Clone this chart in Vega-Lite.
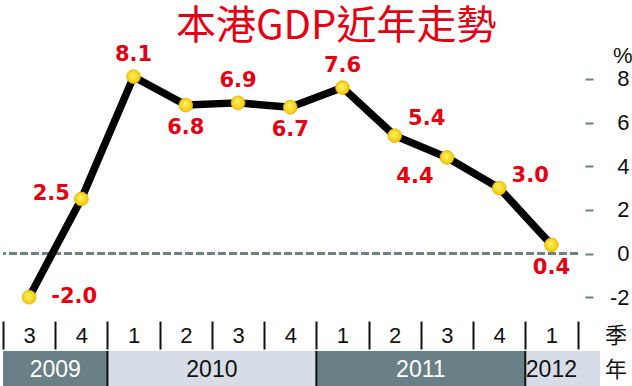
{
  "$schema": "https://vega.github.io/schema/vega-lite/v6.json",
  "padding": {"left": 2, "top": 6, "right": 0, "bottom": 0},
  "spacing": 0,
  "background": "white",
  "title": {
    "text": "本港GDP近年走勢",
    "font": "Noto Sans CJK TC",
    "fontSize": 40,
    "fontWeight": "normal",
    "color": "#e60012",
    "anchor": "start",
    "dx": 174,
    "offset": -43,
    "baseline": "bottom"
  },
  "datasets": {
    "gdp": [
      {"period": "2009 Q3", "value": -2.0},
      {"period": "2009 Q4", "value": 2.5},
      {"period": "2010 Q1", "value": 8.1},
      {"period": "2010 Q2", "value": 6.8},
      {"period": "2010 Q3", "value": 6.9},
      {"period": "2010 Q4", "value": 6.7},
      {"period": "2011 Q1", "value": 7.6},
      {"period": "2011 Q2", "value": 5.4},
      {"period": "2011 Q3", "value": 4.4},
      {"period": "2011 Q4", "value": 3.0},
      {"period": "2012 Q1", "value": 0.4}
    ],
    "years": [
      {"year": "2009", "start": 0, "end": 2},
      {"year": "2010", "start": 2, "end": 6},
      {"year": "2011", "start": 6, "end": 10},
      {"year": "2012", "start": 10, "end": 11}
    ]
  },
  "vconcat": [
    {
      "width": 574.5,
      "height": 271,
      "data": {"name": "gdp"},
      "transform": [
        {"calculate": "replace(format(datum.value, '.1f'), '\u2212', '-')", "as": "label"}
      ],
      "layer": [
        {
          "mark": {"type": "rule", "color": "#6b8186", "strokeWidth": 2, "strokeDash": [7, 4]},
          "encoding": {"y": {"datum": 0, "type": "quantitative"}}
        },
        {
          "encoding": {
            "x": {
              "field": "period",
              "type": "ordinal",
              "sort": "ascending",
              "scale": {"type": "band", "paddingInner": 0, "paddingOuter": 0},
              "axis": {
                "title": "季",
                "titleX": 612.5,
                "titleY": 14,
                "titleAlign": "center",
                "titleBaseline": "middle",
                "titleAngle": 0,
                "titleFont": "Noto Sans CJK TC",
                "titleFontSize": 22,
                "titleFontWeight": "normal",
                "titleColor": "#111111",
                "domain": false,
                "grid": false,
                "ticks": true,
                "tickBand": "extent",
                "tickSize": 28,
                "tickWidth": 2,
                "tickColor": "#111111",
                "labelExpr": "slice(datum.label, -1)",
                "labelFont": "Liberation Sans",
                "labelFontSize": 22,
                "labelColor": "#111111",
                "labelPadding": -14,
                "labelBaseline": "middle",
                "labelAngle": 0,
                "labelFlush": false,
                "labelOverlap": false,
                "labelBound": false
              }
            },
            "y": {
              "field": "value",
              "type": "quantitative",
              "scale": {"domain": [-3.092, 9.322], "nice": false, "zero": false},
              "axis": {
                "orient": "right",
                "offset": 7.5,
                "values": [-2, 0, 2, 4, 6, 8],
                "domain": false,
                "grid": false,
                "tickSize": 8,
                "tickWidth": 2,
                "tickColor": "#6b8186",
                "labelFont": "Liberation Sans",
                "labelFontSize": 22,
                "labelColor": "#111111",
                "labelAlign": "right",
                "labelBaseline": "middle",
                "labelPadding": 36,
                "labelExpr": "replace(datum.label, '\u2212', '-')",
                "title": "%",
                "titleAngle": 0,
                "titleX": 47,
                "titleY": 12,
                "titleAlign": "right",
                "titleBaseline": "alphabetic",
                "titleFont": "Liberation Sans",
                "titleFontSize": 22,
                "titleFontWeight": "normal",
                "titleColor": "#111111"
              }
            }
          },
          "layer": [
            {"mark": {"type": "line", "color": "#000000", "strokeWidth": 7.5, "strokeJoin": "round"}},
            {
              "mark": {
                "type": "circle",
                "size": 190,
                "opacity": 1,
                "fill": {
                  "gradient": "radial",
                  "x1": 0.42, "y1": 0.38, "r1": 0,
                  "x2": 0.5, "y2": 0.5, "r2": 0.55,
                  "stops": [
                    {"offset": 0, "color": "#fff36a"},
                    {"offset": 1, "color": "#f2c400"}
                  ]
                },
                "stroke": "#e0b400",
                "strokeWidth": 0.8
              }
            },
            {
              "transform": [{"filter": {"field": "period", "oneOf": ["2010 Q1", "2010 Q3", "2011 Q1"]}}],
              "mark": {"type": "text", "font": "DejaVu Sans", "fontWeight": "bold", "fontSize": 21, "color": "#e60012", "dy": -22},
              "encoding": {"text": {"field": "label"}}
            },
            {
              "transform": [{"filter": {"field": "period", "oneOf": ["2010 Q2", "2010 Q4", "2012 Q1"]}}],
              "mark": {"type": "text", "font": "DejaVu Sans", "fontWeight": "bold", "fontSize": 21, "color": "#e60012", "dy": 23},
              "encoding": {"text": {"field": "label"}}
            },
            {
              "transform": [{"filter": {"field": "period", "equal": "2009 Q3"}}],
              "mark": {"type": "text", "font": "DejaVu Sans", "fontWeight": "bold", "fontSize": 21, "color": "#e60012", "dx": 45, "dy": 0},
              "encoding": {"text": {"field": "label"}}
            },
            {
              "transform": [{"filter": {"field": "period", "equal": "2009 Q4"}}],
              "mark": {"type": "text", "font": "DejaVu Sans", "fontWeight": "bold", "fontSize": 21, "color": "#e60012", "dx": -30, "dy": -5},
              "encoding": {"text": {"field": "label"}}
            },
            {
              "transform": [{"filter": {"field": "period", "equal": "2011 Q2"}}],
              "mark": {"type": "text", "font": "DejaVu Sans", "fontWeight": "bold", "fontSize": 21, "color": "#e60012", "dx": 32, "dy": -17},
              "encoding": {"text": {"field": "label"}}
            },
            {
              "transform": [{"filter": {"field": "period", "equal": "2011 Q3"}}],
              "mark": {"type": "text", "font": "DejaVu Sans", "fontWeight": "bold", "fontSize": 21, "color": "#e60012", "dx": -32, "dy": 20},
              "encoding": {"text": {"field": "label"}}
            },
            {
              "transform": [{"filter": {"field": "period", "equal": "2011 Q4"}}],
              "mark": {"type": "text", "font": "DejaVu Sans", "fontWeight": "bold", "fontSize": 21, "color": "#e60012", "dx": 31, "dy": -12},
              "encoding": {"text": {"field": "label"}}
            }
          ]
        }
      ]
    },
    {
      "width": 597,
      "height": 37,
      "data": {"name": "years"},
      "view": {"fill": "#d6dde7", "stroke": null},
      "layer": [
        {
          "mark": {"type": "rect"},
          "encoding": {
            "x": {
              "field": "start",
              "type": "quantitative",
              "scale": {"domain": [0, 11], "range": [0, 574.5], "nice": false, "zero": false},
              "axis": {
                "orient": "top",
                "title": "年",
                "titleX": 612.5,
                "titleY": 18,
                "titleAlign": "center",
                "titleBaseline": "middle",
                "titleAngle": 0,
                "titleFont": "Noto Sans CJK TC",
                "titleFontSize": 22,
                "titleFontWeight": "normal",
                "titleColor": "#111111",
                "labels": false,
                "ticks": false,
                "domain": false,
                "grid": false
              }
            },
            "x2": {"field": "end"},
            "color": {
              "field": "year",
              "type": "nominal",
              "scale": {"domain": ["2009", "2010", "2011", "2012"], "range": ["#698086", "#d6dde7", "#698086", "#d6dde7"]},
              "legend": null
            }
          }
        },
        {
          "transform": [{"filter": "datum.start > 0"}],
          "mark": {"type": "rule", "color": "#111111", "strokeWidth": 2},
          "encoding": {"x": {"field": "start", "type": "quantitative"}}
        },
        {
          "transform": [{"calculate": "(datum.start + datum.end) / 2", "as": "mid"}],
          "mark": {"type": "text", "font": "Liberation Sans", "fontSize": 23},
          "encoding": {
            "x": {"field": "mid", "type": "quantitative"},
            "text": {"field": "year"},
            "color": {
              "condition": {"test": "datum.year === '2009' || datum.year === '2011'", "value": "#ffffff"},
              "value": "#111111"
            }
          }
        }
      ]
    }
  ],
  "config": {"view": {"stroke": null}}
}
